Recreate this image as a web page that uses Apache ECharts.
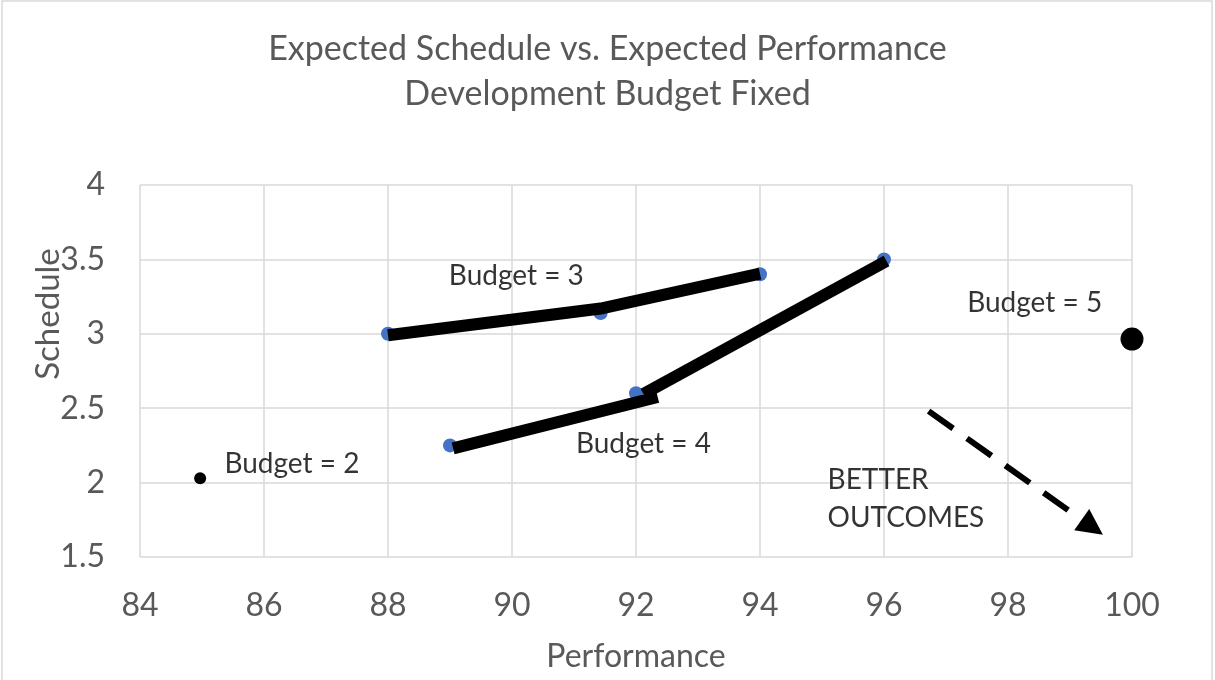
<!DOCTYPE html>
<html>
<head>
<meta charset="utf-8">
<script src="https://cdn.jsdelivr.net/npm/echarts@6/dist/echarts.min.js"></script>
<style>
html,body{margin:0;padding:0;background:#fff;}
#chart{width:1215px;height:680px;}
</style>
</head>
<body>
<div id="chart"></div>
<script>
// ---- data ----
var pointX = [88.0, 91.43, 94.0, 89.0, 92.0, 96.0];
var pointY = [3.0, 3.14, 3.4, 2.25, 2.6, 3.5];

var budget2 = [84.97, 2.03];
var budget5 = [100.0, 2.965];

var line3X = [88.0, 91.43, 94.0];
var line3Y = [2.99, 3.17, 3.405];
var line4aX = [89.05, 92.35];
var line4aY = [2.23, 2.575];
var line4bX = [92.12, 96.04];
var line4bY = [2.595, 3.49];

var arrowX = [96.72, 99.36];
var arrowY = [2.48, 1.70];

var labelText = ['Budget = 3', 'Budget = 4', 'Budget = 2', 'Budget = 5', 'BETTER\nOUTCOMES'];
var labelX = [90.07, 92.12, 86.45, 98.43, 95.09];
var labelY = [3.39, 2.26, 2.125, 3.207, 1.89];

var xTicks = [84, 86, 88, 90, 92, 94, 96, 98, 100];
var yTicks = [1.5, 2, 2.5, 3, 3.5, 4];

var titleLines = ['Expected Schedule vs. Expected Performance', 'Development Budget Fixed'];
var xName = 'Performance';
var yName = 'Schedule';

// ---- build ----
function zip(a, b) { return a.map(function (v, i) { return [v, b[i]]; }); }
var FONT = 'Lato';
var GRAY = '#595959';

var chart = echarts.init(document.getElementById('chart'));
var option = {
  backgroundColor: '#fff',
  animation: false,
  title: {
    text: titleLines.join('\n'),
    left: 'center',
    top: 22,
    textStyle: { fontFamily: FONT, fontSize: 34, fontWeight: 'normal', color: GRAY, lineHeight: 45 }
  },
  grid: { left: 140, right: 83, top: 185, bottom: 123 },
  xAxis: {
    type: 'value',
    min: xTicks[0], max: xTicks[xTicks.length - 1], interval: 2,
    name: xName, nameLocation: 'middle', nameGap: 84,
    nameTextStyle: { fontFamily: FONT, fontSize: 32, color: GRAY },
    axisLine: { show: false }, axisTick: { show: false },
    axisLabel: { fontFamily: FONT, fontSize: 32, color: GRAY, margin: 33 },
    splitLine: { show: true, lineStyle: { color: '#d9d9d9', width: 1.5 } }
  },
  yAxis: {
    type: 'value',
    min: yTicks[0], max: yTicks[yTicks.length - 1], interval: 0.5,
    axisLine: { show: false }, axisTick: { show: false },
    axisLabel: { fontFamily: FONT, fontSize: 32, color: GRAY, margin: 35 },
    splitLine: { show: true, lineStyle: { color: '#d9d9d9', width: 1.5 } }
  },
  graphic: [
    { type: 'rect', shape: { x: 2, y: 1, width: 1210, height: 700 }, style: { fill: 'none', stroke: '#d9d9d9', lineWidth: 1.5 }, silent: true },
    { type: 'text', x: 48, y: 314, rotation: Math.PI / 2,
      style: { text: yName, fontFamily: FONT, fontSize: 33, fill: GRAY, align: 'center', verticalAlign: 'middle' } }
  ],
  series: [
    { type: 'scatter', data: zip(pointX, pointY), symbolSize: 14, itemStyle: { color: '#4472C4', opacity: 1 }, z: 2 },
    { type: 'line', data: zip(line3X, line3Y), symbol: 'none', lineStyle: { color: '#000', width: 12, cap: 'butt', join: 'miter' }, z: 3 },
    { type: 'line', data: zip(line4aX, line4aY), symbol: 'none', lineStyle: { color: '#000', width: 12, cap: 'butt' }, z: 3 },
    { type: 'line', data: zip(line4bX, line4bY), symbol: 'none', lineStyle: { color: '#000', width: 12, cap: 'butt' }, z: 3 },
    { type: 'scatter', data: [budget2], symbolSize: 12, itemStyle: { color: '#000', opacity: 1 }, z: 3 },
    { type: 'scatter', data: [budget5], symbolSize: 23, itemStyle: { color: '#000', opacity: 1 }, z: 3 },
    { type: 'lines', coordinateSystem: 'cartesian2d', z: 3,
      symbol: ['none', 'triangle'], symbolSize: [0, 26],
      lineStyle: { color: '#000', width: 6, type: [30, 17], opacity: 1 },
      data: [{ coords: zip(arrowX, arrowY) }] },
    { type: 'scatter', z: 4, symbolSize: 1, itemStyle: { color: 'transparent' },
      data: labelText.map(function (t, i) {
        return { value: [labelX[i], labelY[i]], name: t,
          label: i === 4 ? { align: 'left' } : {} };
      }),
      label: { show: true, position: 'inside', formatter: function (p) { return p.name; },
        fontFamily: FONT, fontSize: 28, color: '#000', lineHeight: 38 } }
  ]
};
chart.setOption(option);
</script>
</body>
</html>
